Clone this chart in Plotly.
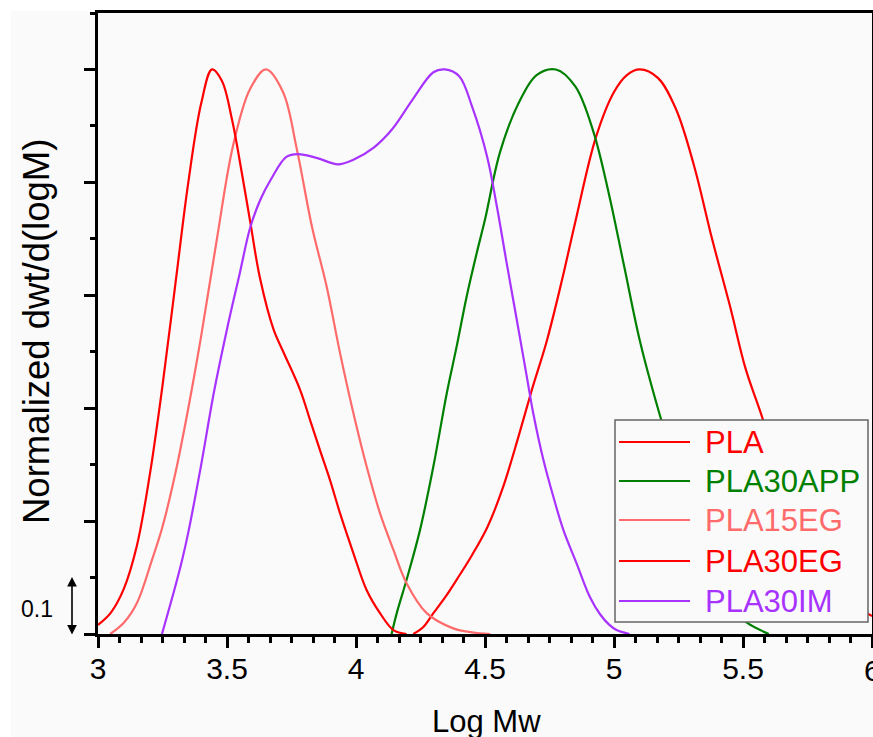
import plotly.graph_objects as go

# ---------------- data ----------------
series_names = ["PLA", "PLA30APP", "PLA15EG", "PLA30EG", "PLA30IM"]
series_colors = ["#ff0000", "#008000", "#ff6a6a", "#ff0000", "#a833ff"]

pla_x = [4.222, 4.26, 4.30, 4.35, 4.39, 4.45, 4.51, 4.57, 4.63, 4.68, 4.74, 4.80, 4.85,
         4.93, 5.00, 5.05, 5.10, 5.17, 5.24, 5.31, 5.38, 5.45, 5.51, 5.57, 5.65, 5.72,
         5.80, 5.88, 5.95, 6.00]
pla_y = [0.0, 0.012, 0.037, 0.068, 0.096, 0.14, 0.19, 0.26, 0.35, 0.43, 0.52, 0.63, 0.73,
         0.88, 0.96, 0.99, 1.0, 0.985, 0.93, 0.83, 0.70, 0.58, 0.47, 0.39, 0.277, 0.195,
         0.125, 0.075, 0.046, 0.032]

app_x = [4.138, 4.158, 4.196, 4.248, 4.30, 4.352, 4.39, 4.429, 4.468, 4.50, 4.558, 4.63,
         4.70, 4.775, 4.85, 4.92, 4.98, 5.04, 5.10, 5.17, 5.25, 5.32, 5.40, 5.47, 5.515, 5.60]
app_y = [0.0, 0.037, 0.096, 0.184, 0.297, 0.427, 0.509, 0.598, 0.675, 0.734, 0.853, 0.94,
         0.99, 1.0, 0.97, 0.89, 0.78, 0.65, 0.52, 0.40, 0.28, 0.18, 0.09, 0.04, 0.02, 0.0]

eg15_x = [3.047, 3.10, 3.151, 3.209, 3.25, 3.30, 3.35, 3.40, 3.461, 3.523, 3.589, 3.651,
          3.717, 3.771, 3.83, 3.886, 3.938, 3.99, 4.041, 4.093, 4.145, 4.196, 4.274, 4.377,
          4.45, 4.52]
eg15_y = [0.0, 0.02, 0.055, 0.131, 0.19, 0.285, 0.40, 0.528, 0.70, 0.864, 0.965, 1.0,
          0.96, 0.858, 0.72, 0.616, 0.498, 0.391, 0.297, 0.214, 0.149, 0.09, 0.037, 0.01,
          0.003, 0.0]

eg30_x = [3.0, 3.05, 3.10, 3.15, 3.20, 3.25, 3.30, 3.35, 3.40, 3.442, 3.48, 3.52, 3.56,
          3.59, 3.628, 3.68, 3.718, 3.783, 3.822, 3.86, 3.899, 3.938, 3.99, 4.041, 4.093,
          4.145, 4.196]
eg30_y = [0.016, 0.038, 0.08, 0.155, 0.28, 0.44, 0.62, 0.80, 0.94, 1.0, 0.98, 0.91, 0.81,
          0.73, 0.63, 0.54, 0.50, 0.433, 0.379, 0.326, 0.273, 0.214, 0.143, 0.078, 0.037,
          0.007, 0.0]

im_x = [3.248, 3.30, 3.326, 3.35, 3.40, 3.45, 3.50, 3.55, 3.59, 3.63, 3.67, 3.73, 3.775,
        3.85, 3.93, 3.99, 4.07, 4.14, 4.22, 4.30, 4.345, 4.40, 4.45, 4.508, 4.545, 4.584,
        4.623, 4.662, 4.687, 4.726, 4.765, 4.804, 4.855, 4.907, 4.946, 4.98, 5.01, 5.06]
im_y = [0.0, 0.085, 0.131, 0.18, 0.30, 0.43, 0.54, 0.64, 0.72, 0.77, 0.805, 0.845, 0.85,
        0.843, 0.832, 0.84, 0.862, 0.894, 0.947, 0.995, 1.0, 0.988, 0.934, 0.846, 0.76,
        0.657, 0.557, 0.456, 0.391, 0.309, 0.243, 0.184, 0.125, 0.065, 0.035, 0.017,
        0.007, 0.0]

series_x = [pla_x, app_x, eg15_x, eg30_x, im_x]
series_y = [pla_y, app_y, eg15_y, eg30_y, im_y]

x_ticks = [3, 3.5, 4, 4.5, 5, 5.5]
x_ticklabels = ["3", "3.5", "4", "4.5", "5", "5.5"]
edge_tick = 6
edge_ticklabel = "6"

# ---------------- figure ----------------
W, H = 873, 737
L, R, T, B = 98, 1, 13, 103
pw, ph = W - L - R, H - T - B


def px2x(px):
    return (px - L) / pw


def py2y(py):
    return (H - B - py) / ph


FONT = "Liberation Sans, Arial, sans-serif"

fig = go.Figure()
for name, color, xs, ys in zip(series_names, series_colors, series_x, series_y):
    fig.add_trace(go.Scatter(x=xs, y=ys, mode="lines", name=name,
                             line=dict(color=color, width=2.2, shape="spline", smoothing=1.0),
                             showlegend=False))

fig.update_layout(
    width=W, height=H,
    margin=dict(l=L, r=R, t=T, b=B, autoexpand=False),
    paper_bgcolor="#fafafa", plot_bgcolor="#fafafa",
    font=dict(family=FONT, color="black"),
    xaxis=dict(range=[3, 6], tickvals=x_ticks + [edge_tick], ticktext=x_ticklabels + [""],
               ticks="outside", ticklen=11, tickwidth=2.5, tickcolor="black",
               showline=True, linewidth=3, linecolor="black", mirror=True,
               showgrid=False, zeroline=False, ticklabelstandoff=-5,
               tickfont=dict(size=30, family=FONT),
               minor=dict(dtick=0.5 / 6, tick0=3, ticks="outside", ticklen=6,
                          tickwidth=2.5, tickcolor="black", showgrid=False)),
    yaxis=dict(range=[0, 1.1], dtick=0.2, tick0=0,
               ticks="outside", ticklen=11, tickwidth=2.5, tickcolor="black",
               showticklabels=False,
               showline=True, linewidth=3, linecolor="black", mirror=True,
               showgrid=False, zeroline=False,
               minor=dict(dtick=0.1, tick0=0, ticks="outside", ticklen=5,
                          tickwidth=2.5, tickcolor="black", showgrid=False)),
)

shapes = []
# white strips at top and left of the picture
shapes.append(dict(type="rect", xref="paper", yref="paper", x0=px2x(0), x1=px2x(W),
                   y0=py2y(11), y1=py2y(0), fillcolor="white", line=dict(width=0), layer="below"))
shapes.append(dict(type="rect", xref="paper", yref="paper", x0=px2x(0), x1=px2x(11),
                   y0=py2y(H), y1=py2y(0), fillcolor="white", line=dict(width=0), layer="below"))

# legend box
shapes.append(dict(type="rect", xref="paper", yref="paper", x0=px2x(615), x1=px2x(868),
                   y0=py2y(622), y1=py2y(420), fillcolor="#fafafa",
                   line=dict(color="#666666", width=1.5), layer="above"))
legend_rows = [442, 481, 520, 561, 601]
annotations = []
for name, color, ry in zip(series_names, series_colors, legend_rows):
    shapes.append(dict(type="line", xref="paper", yref="paper", x0=px2x(619), x1=px2x(690),
                       y0=py2y(ry), y1=py2y(ry), line=dict(color=color, width=2.2), layer="above"))
    annotations.append(dict(xref="paper", yref="paper", x=px2x(703), y=py2y(ry),
                            xanchor="left", yanchor="middle", text=name, showarrow=False,
                            font=dict(size=31, color=color, family=FONT)))

# tick label at the right edge (partly outside the picture, as in the reference)
annotations.append(dict(xref="x", yref="paper", x=edge_tick, y=py2y(670),
                        xanchor="center", yanchor="middle", text=edge_ticklabel,
                        showarrow=False, font=dict(size=30, family=FONT, color="black")))

# scale bar "0.1"
annotations.append(dict(xref="paper", yref="paper", x=px2x(72), y=py2y(577),
                        axref="pixel", ayref="pixel", ax=0, ay=59,
                        text="", showarrow=True, arrowhead=2, arrowside="end+start",
                        arrowwidth=1.6, arrowsize=1.2, arrowcolor="black",
                        standoff=0, startstandoff=0))
annotations.append(dict(xref="paper", yref="paper", x=px2x(37), y=py2y(609),
                        xanchor="center", yanchor="middle", text="0.1", showarrow=False,
                        font=dict(size=23, family=FONT, color="black")))
# axis titles
annotations.append(dict(xref="paper", yref="paper", x=px2x(486), y=py2y(721),
                        xanchor="center", yanchor="middle", text="Log Mw", showarrow=False,
                        font=dict(size=31, family=FONT, color="black")))
annotations.append(dict(xref="paper", yref="paper", x=px2x(36), y=py2y(332),
                        xanchor="center", yanchor="middle", text="Normalized dwt/d(logM)",
                        textangle=-90, showarrow=False,
                        font=dict(size=36.5, family=FONT, color="black")))

fig.update_layout(shapes=shapes, annotations=annotations)
fig.write_html("out.html")
